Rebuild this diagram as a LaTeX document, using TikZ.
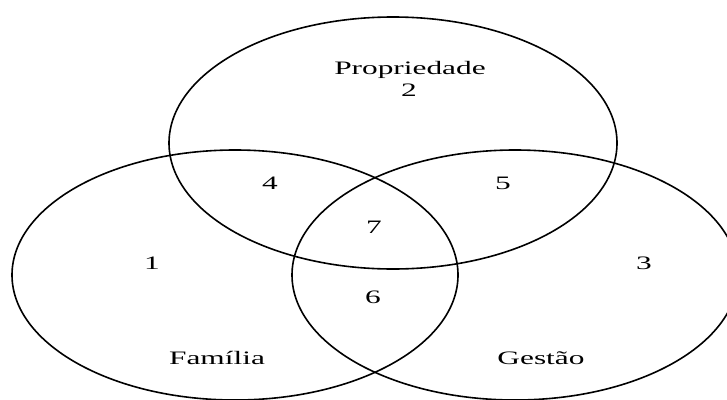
\documentclass[tikz,border=0pt]{standalone}
\usepackage{fontspec}
\setmainfont{Liberation Serif}
\usepackage{tikz}
\usetikzlibrary{positioning}

\begin{document}
\begin{tikzpicture}[x=1pt, y=-1pt, line width=1.6pt,
    every node/.style={font=\fontsize{19}{21}\selectfont, xscale=1.65, inner sep=1pt}]
  \useasboundingbox (0, 0) rectangle (727, 399);
  \begin{scope}
    \clip (0, 0) rectangle (727, 399);
    \draw (393, 143) ellipse [x radius=224, y radius=126];
    \draw (235, 275) ellipse [x radius=223, y radius=125];
    \draw (515, 275) ellipse [x radius=223, y radius=125];
  \end{scope}
  \node (prop) at (410, 70) {Propriedade};
  \node (two) at (409, 90) {2};
  \node (one) at (152, 263) {1};
  \node (three) at (644, 263) {3};
  \node (four) at (270, 183) {4};
  \node (five) at (503, 183) {5};
  \node (seven) at (374, 227) {7};
  \node (six) at (373, 297) {6};
  \node (fam) at (217, 358) {Família};
  \node (gest) at (541, 358) {Gestão};
\end{tikzpicture}
\end{document}
